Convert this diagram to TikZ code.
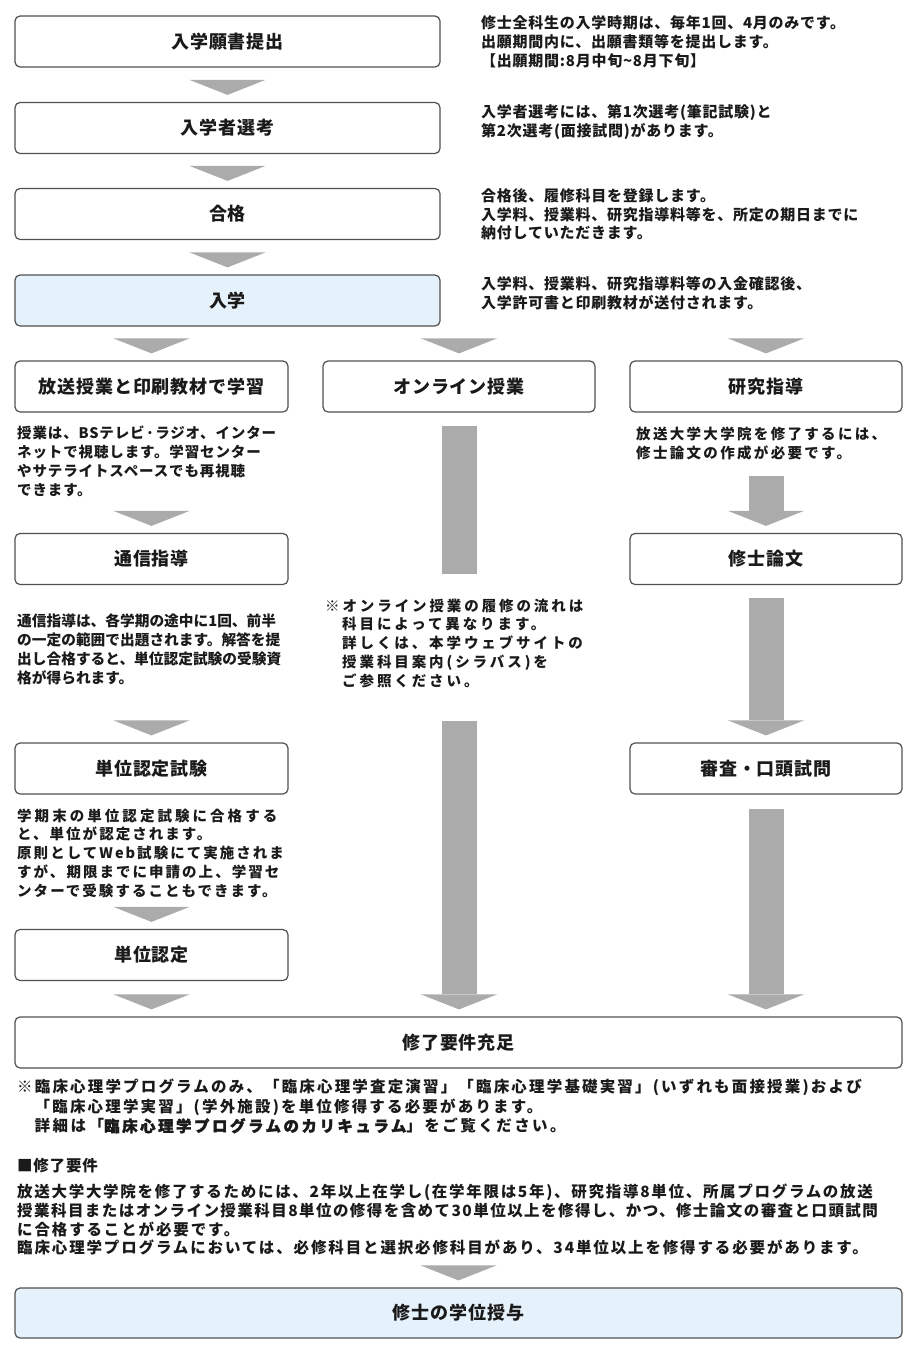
\documentclass[tikz,border=0pt]{standalone}
\usepackage{fontspec}
\newfontfamily\jp{Noto Sans CJK JP}
\usetikzlibrary{calc}
\definecolor{arrowgray}{HTML}{ABABAB}
\definecolor{boxline}{HTML}{505050}
\definecolor{lightblue}{HTML}{E6F2FB}
\definecolor{ink}{HTML}{1A1A1A}
\tikzset{
  box/.style={draw=boxline, line width=1.2pt, rounded corners=5pt, fill=white, inner sep=0pt, text=ink,
    font=\jp\bfseries\fontsize{18}{22}\selectfont\addfontfeatures{LetterSpace=5}},
  wbox/.style={box, minimum width=425pt, minimum height=51pt},
  cbox/.style={box, minimum width=272pt, minimum height=51pt},
  fbox/.style={box, minimum width=887pt, minimum height=51pt},
  bluebox/.style={fill=lightblue},
  fatgray/.style={fill=arrowgray, draw=none},
  txt/.style={anchor=north west, inner sep=0pt, align=left, text=ink},
}
\newcommand\headat[2]{\fill[fatgray] ($(#1.south |- #2.north)+(-38,-22)$) -- ($(#1.south |- #2.north)+(38,-22)$) -- ($(#1.south |- #2.north)+(0,-7)$) -- cycle;}
\newcommand\shaft[3]{\fill[fatgray] ($(#1.south)+(-17.5,#2)$) rectangle ($(#1.south |- #3.north)+(17.5,-22)$);}
\newcommand\ls[2]{{\addfontfeatures{LetterSpace=#1}#2}}
\begin{document}
\begin{tikzpicture}[x=1pt,y=-1pt]
\fill[white] (0,0) rectangle (916,1355);
\useasboundingbox (0,0) rectangle (916,1355);

% top chain
\node[wbox] (b1) at (227.5,41.5) {入学願書提出};
\node[wbox] (b2) at (227.5,128) {入学者選考};
\node[wbox] (b3) at (227.5,214) {合格};
\node[wbox,bluebox] (b4) at (227.5,300.5) {入学};

% three columns
\node[cbox, minimum width=273pt] (c1) at (151.5,386.5) {放送授業と印刷教材で学習};
\node[cbox] (c2) at (459,386.5) {オンライン授業};
\node[cbox] (c3) at (766,386.5) {研究指導};

\node[cbox, minimum width=273pt] (l2) at (151.5,559) {通信指導};
\node[cbox, minimum width=273pt] (l3) at (151.5,768.5) {単位認定試験};
\node[cbox, minimum width=273pt] (l4) at (151.5,955) {単位認定};

\node[cbox] (r2) at (766,559) {修士論文};
\node[cbox] (r3) at (766,768.5) {審査・口頭試問};

\node[fbox] (f1) at (458.5,1042.5) {修了要件充足};
\node[fbox,bluebox, minimum height=50pt] (f2) at (458.5,1313) {修士の学位授与};

% texts
\node[txt, font=\jp\bfseries\fontsize{15}{18.8}\selectfont\addfontfeatures{LetterSpace=5}] (ta) at (481,15.3) {修士全科生の入学時期は、毎年1回、4月のみです。\\出願期間内に、出願書類等を提出します。\\【出願期間:8月中旬\textasciitilde 8月下旬】};
\node[txt, font=\jp\bfseries\fontsize{15}{18.8}\selectfont\addfontfeatures{LetterSpace=5}] (tb) at (481,104.3) {入学者選考には、第1次選考(筆記試験)と\\第2次選考(面接試問)があります。};
\node[txt, font=\jp\bfseries\fontsize{15}{18.6}\selectfont\addfontfeatures{LetterSpace=5}] (tc) at (481,188.3) {合格後、履修科目を登録します。\\入学料、授業料、研究指導料等を、所定の期日までに\\納付していただきます。};
\node[txt, font=\jp\bfseries\fontsize{15}{18.6}\selectfont\addfontfeatures{LetterSpace=5}] (td) at (481,276.3) {入学料、授業料、研究指導料等の入金確認後、\\入学許可書と印刷教材が送付されます。};

\node[txt, font=\jp\bfseries\fontsize{14.5}{19}\selectfont\addfontfeatures{LetterSpace=6}] (te) at (17,425.5) {授業は、BSテレビ·ラジオ、インター\\ネットで視聴します。学習センター\\やサテライトスペースでも再視聴\\できます。};
\node[txt, font=\jp\bfseries\fontsize{14.7}{19}\selectfont] (tf) at (17,613.4) {通信指導は、各学期の途中に1回、前半\\の一定の範囲で出題されます。解答を提\\出し合格すると、単位認定試験の受験資\\格が得られます。};
\node[txt, font=\jp\bfseries\fontsize{14.5}{18.75}\selectfont\addfontfeatures{LetterSpace=14}] (tg) at (17,808.5) {\ls{21}{学期末の単位認定試験に合格する}\\と、単位が認定されます。\\原則としてWeb試験にて実施されま\\すが、期限までに申請の上、学習セ\\ンターで受験することもできます。};

\node[txt, font=\jp\bfseries\fontsize{14.5}{18.75}\selectfont\addfontfeatures{LetterSpace=20}] (onote) at (325,598.5) {※オンライン授業の履修の流れは\\\hspace*{17pt}科目によって異なります。\\\hspace*{17pt}詳しくは、本学ウェブサイトの\\\hspace*{17pt}授業科目案内(シラバス)を\\\hspace*{17pt}ご参照ください。};

\node[txt, font=\jp\bfseries\fontsize{14.5}{19}\selectfont\addfontfeatures{LetterSpace=16}] (ti) at (636,426.5) {放送大学大学院を修了するには、\\修士論文の作成が必要です。};

\node[txt, font=\jp\bfseries\fontsize{15.5}{19.5}\selectfont] (tj) at (17,1079) {\ls{14}{※臨床心理学プログラムのみ、「臨床心理学査定演習」「臨床心理学基礎実習」(いずれも面接授業)および}\\\hspace*{17.5pt}\ls{14}{「臨床心理学実習」(学外施設)を単位修得する必要があります。}\\\hspace*{17.5pt}\ls{16}{詳細は「{\addfontfeatures{FakeBold=2}臨床心理学プログラムのカリキュラム}」をご覧ください。}};
\node[txt, font=\jp\bfseries\fontsize{15.5}{19}\selectfont\addfontfeatures{LetterSpace=5}] (tk) at (17,1158) {■修了要件};
\node[txt, font=\jp\bfseries\fontsize{15.5}{18.7}\selectfont] (tl) at (17,1184) {\ls{11}{放送大学大学院を修了するためには、2年以上在学し(在学年限は5年)、研究指導8単位、所属プログラムの放送}\\\ls{9.3}{授業科目またはオンライン授業科目8単位の修得を含めて30単位以上を修得し、かつ、修士論文の審査と口頭試問}\\\ls{12}{に合格することが必要です。}\\\ls{12}{臨床心理学プログラムにおいては、必修科目と選択必修科目があり、34単位以上を修得する必要があります。}};

% arrows: top chain
\headat{b2}{b2}
\headat{b3}{b3}
\headat{b4}{b4}
\headat{c1}{c1}
\headat{c2}{c2}
\headat{c3}{c3}
% left column
\headat{l2}{l2}
\headat{l3}{l3}
\headat{l4}{l4}
\headat{l4}{f1}
% middle column
\fill[fatgray] ($(c2.south)+(-17.5,13)$) rectangle ($(c2.south |- onote.north)+(17.5,-25)$);
\fill[fatgray] ($(c2.south |- l3.north)+(-17.5,-21)$) rectangle ($(c2.south |- f1.north)+(17.5,-22)$);
\headat{c2}{f1}
% right column
\shaft{c3}{63}{r2}
\headat{c3}{r2}
\shaft{r2}{13}{r3}
\headat{r2}{r3}
\shaft{r3}{14}{f1}
\headat{r3}{f1}
% final
\headat{f2}{f2}
\end{tikzpicture}
\end{document}
